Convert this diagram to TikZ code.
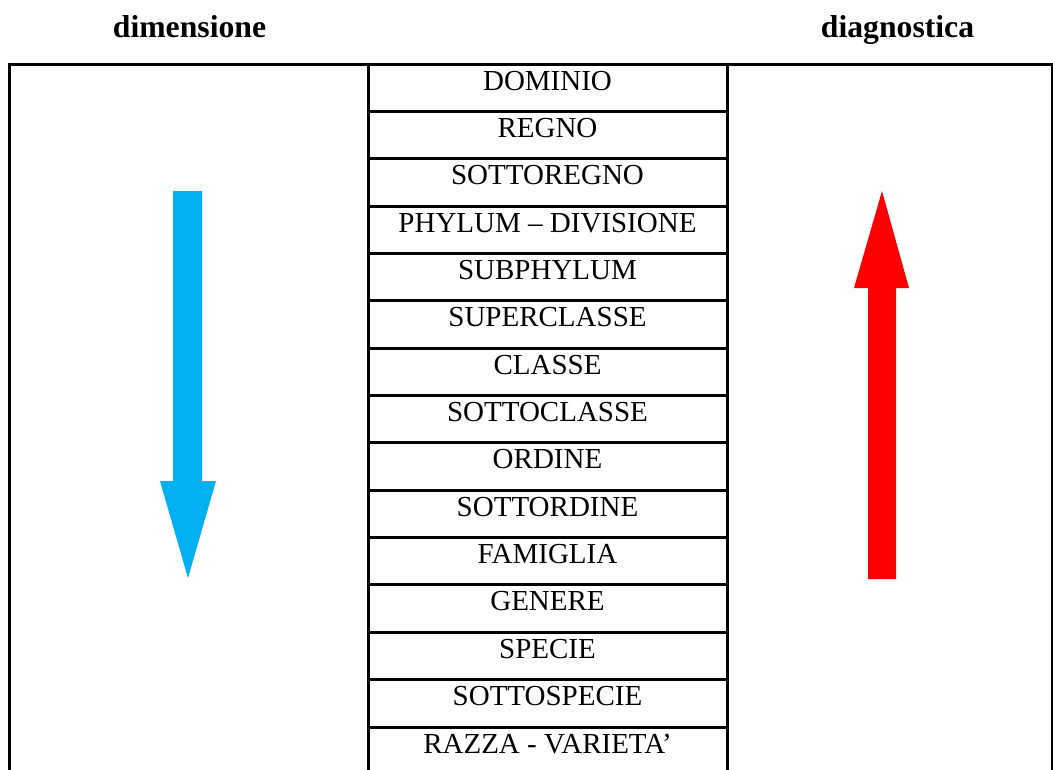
\documentclass[tikz,border=0pt]{standalone}
\usepackage{fontspec}
\setmainfont{Liberation Serif}
\definecolor{arrowblue}{HTML}{00B0F0}
\definecolor{arrowred}{HTML}{FF0000}
\tikzset{
  frameline/.style={line width=3pt, black},
  cell/.style={draw, line width=3pt, rectangle, minimum width=359pt, minimum height=47.36pt,
    inner sep=0pt, text height=4.66pt, text depth=0pt,
    font=\fontsize{29}{34}\selectfont},
  header/.style={anchor=base, inner sep=0pt, font=\fontsize{31.7}{36}\selectfont\bfseries},
}
\begin{document}
\begin{tikzpicture}[x=1pt,y=-1pt]
\clip (0,0) rectangle (1053,769);
\fill[white] (0,0) rectangle (1053,769);
% headers
\node[header] (hdim) at (189.5,37) {dimensione};
\node[header] (hdiag) at (897.5,37) {diagnostica};
% outer frame
\draw[frameline] (9,773) -- (9,64) -- (1052,64) -- (1052,773);
% rows
\foreach \i/\t in {0/DOMINIO,1/REGNO,2/SOTTOREGNO,3/PHYLUM – DIVISIONE,4/SUBPHYLUM,
  5/SUPERCLASSE,6/CLASSE,7/SOTTOCLASSE,8/ORDINE,9/SOTTORDINE,10/FAMIGLIA,
  11/GENERE,12/SPECIE,13/SOTTOSPECIE,14/RAZZA - VARIETA’}{
  \node[cell] (r\i) at (547.5, 64+23.68+\i*47.36) {\t};
}
% arrows
\fill[arrowblue] (173,191) -- (202,191) -- (202,481) -- (216,481) -- (188,578)
  -- (160,481) -- (173,481) -- cycle;
\fill[arrowred] (882,191) -- (909,288) -- (896,288) -- (896,579) -- (868,579)
  -- (868,288) -- (854,288) -- cycle;
\end{tikzpicture}
\end{document}
